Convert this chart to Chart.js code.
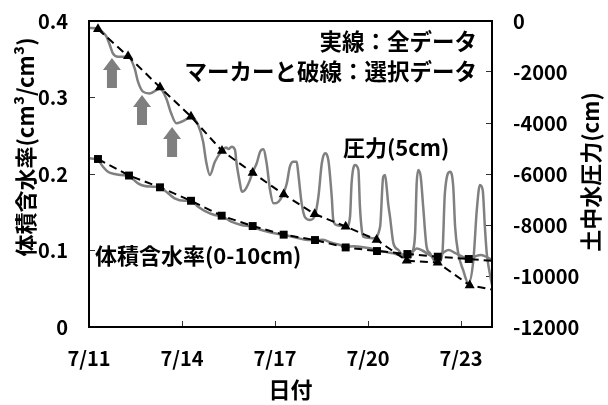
<!DOCTYPE html>
<html><head><meta charset="utf-8">
<script src="https://cdn.jsdelivr.net/npm/chart.js@4.4.1/dist/chart.umd.min.js"></script>
<style>html,body{margin:0;padding:0;background:#fff}#wrap{width:608px;height:405px}</style>
</head><body><div id="wrap"><canvas id="c" width="608" height="405"></canvas></div>
<script>
// ---- data (x = days since 7/11 00:00) ----
const xTickDays = [0, 3, 6, 9, 12];
const xTickLabels = ['7/11', '7/14', '7/17', '7/20', '7/23'];

// volumetric water content (0-10cm), all data
const wcAllDays = [0, 0.29, 0.45, 0.61, 0.83, 1.04, 1.28, 1.58, 1.80, 2.06, 2.28, 2.55, 2.76, 3.09, 3.28, 3.52, 3.78, 4.05, 4.27, 4.59, 4.91, 5.27, 5.56, 5.99, 6.29, 6.64, 7.06, 7.33, 7.55, 7.8, 8.1, 8.28, 8.55, 8.74, 9.06, 9.28, 9.5, 9.82, 9.98, 10.25, 10.45, 10.57, 10.75, 10.95, 11.1, 11.25, 11.45, 11.6, 11.8, 12.0, 12.2, 12.3, 12.5, 12.65, 12.85, 13.0];
const wcAllValues = [0.2205, 0.2183, 0.2095, 0.203, 0.200, 0.1987, 0.1974, 0.1878, 0.1843, 0.1834, 0.1826, 0.1748, 0.1682, 0.1651, 0.1651, 0.1573, 0.1507, 0.1464, 0.1451, 0.1376, 0.1333, 0.1311, 0.1268, 0.1225, 0.1203, 0.1173, 0.1137, 0.1137, 0.1140, 0.1105, 0.1072, 0.1050, 0.1055, 0.1050, 0.1029, 0.1007, 0.0985, 0.0963, 0.0945, 0.0950, 0.0990, 0.1025, 0.1000, 0.0950, 0.0920, 0.0925, 0.0980, 0.1005, 0.0970, 0.0930, 0.0895, 0.0895, 0.0930, 0.0940, 0.0910, 0.0875];

// volumetric water content, selected data (markers)
const wcSelDays = [0.29, 1.29, 2.29, 3.29, 4.28, 5.28, 6.28, 7.29, 8.28, 9.29, 10.27, 11.25, 12.25, 13.3];
const wcSelValues = [0.2196, 0.198, 0.1826, 0.165, 0.1455, 0.132, 0.1207, 0.1137, 0.104, 0.0993, 0.0954, 0.0919, 0.0889, 0.0855];

// soil water pressure (5cm), all data
const psiAllDays = [0, 0.07, 0.29, 0.45, 0.56, 0.67, 0.77, 0.94, 1.20, 1.26, 1.47, 1.58, 1.74, 1.96, 2.23, 2.28, 2.49, 2.65, 2.82, 2.98, 3.19, 3.30, 3.52, 3.68, 3.78, 3.90, 4.06, 4.29, 4.42, 4.50, 4.60, 4.71, 4.76, 4.87, 4.93, 5.03, 5.19, 5.27, 5.41, 5.52, 5.62, 5.73, 5.84, 5.95, 6.11, 6.25, 6.38, 6.48, 6.59, 6.70, 6.75, 6.86, 6.97, 7.13, 7.29, 7.40, 7.51, 7.61, 7.72, 7.83, 7.88, 7.99, 8.20, 8.30, 8.42, 8.47, 8.58, 8.69, 8.74, 8.80, 8.85, 9.00, 9.17, 9.39, 9.49, 9.55, 9.60, 9.65, 9.71, 9.82, 9.98, 10.14, 10.25, 10.45, 10.52, 10.57, 10.62, 10.70, 10.78, 10.89, 11.00, 11.16, 11.25, 11.40, 11.48, 11.65, 11.75, 11.81, 11.91, 12.07, 12.24, 12.40, 12.51, 12.61, 12.70, 12.77, 12.83, 12.91, 13.0];
const psiAllValues = [-270, -270, -310, -450, -600, -940, -1270, -1400, -1400, -1370, -1850, -2380, -2770, -2840, -2670, -2650, -3030, -3620, -4010, -3950, -3820, -3760, -4080, -4730, -5520, -6040, -5520, -5090, -4960, -5020, -4930, -5060, -5580, -6370, -6700, -6630, -6240, -5950, -5580, -5130, -5030, -5580, -6630, -7150, -7090, -6820, -6370, -5710, -5520, -5520, -5970, -7150, -7700, -7800, -7610, -6890, -5580, -5190, -5450, -6890, -7800, -8000, -8040, -8090, -7680, -6370, -5650, -5840, -7280, -8200, -8460, -8500, -8520, -8070, -6110, -6040, -6500, -7150, -7680, -8720, -8980, -9250, -9350, -9000, -8320, -6370, -5840, -6100, -7280, -8850, -9110, -9440, -9490, -9100, -6750, -5910, -6500, -8070, -9100, -9770, -10290, -9370, -7410, -6430, -6630, -8070, -9100, -9770, -10350];

// soil water pressure, selected data (markers)
const psiSelDays = [0.29, 1.26, 2.29, 3.29, 4.29, 5.28, 6.28, 7.28, 8.28, 9.28, 10.25, 11.25, 12.28, 13.3];
const psiSelValues = [-320, -1380, -2600, -3750, -5090, -5950, -6800, -7570, -8060, -8580, -9400, -9475, -10365, -10600];

// annotation anchors (data coordinates)
const arrowDays = [0.74, 1.71, 2.68];
const arrowTopPsi = [-1450, -2900, -4160];
const arrowBottomPsi = [-2630, -4080, -5330];

const pts = (xs, ys) => xs.map((d, i) => ({x: d, y: ys[i]}));

const CJK = '"Noto Sans CJK JP", sans-serif';
const GRAY = '#808080';

const annot = {
  id: 'annot',
  afterDraw(chart) {
    const {ctx, chartArea: a, scales: {x, y, y2}} = chart;
    ctx.save();
    // frame
    ctx.strokeStyle = '#000';
    ctx.lineWidth = 2;
    ctx.strokeRect(a.left, a.top, a.right - a.left, a.bottom - a.top);
    // arrows
    ctx.fillStyle = '#7f7f7f';
    arrowDays.forEach((d, i) => {
      const cx = x.getPixelForValue(d);
      const t = y2.getPixelForValue(arrowTopPsi[i]);
      const b = y2.getPixelForValue(arrowBottomPsi[i]);
      const hw = 9, sw = 5, hh = 12;
      ctx.beginPath();
      ctx.moveTo(cx, t);
      ctx.lineTo(cx + hw, t + hh);
      ctx.lineTo(cx + sw, t + hh);
      ctx.lineTo(cx + sw, b);
      ctx.lineTo(cx - sw, b);
      ctx.lineTo(cx - sw, t + hh);
      ctx.lineTo(cx - hw, t + hh);
      ctx.closePath();
      ctx.fill();
    });
    // texts
    ctx.fillStyle = '#000';
    ctx.textBaseline = 'middle';
    ctx.font = 'bold 22.5px ' + CJK;
    ctx.textAlign = 'right';
    ctx.fillText('実線：全データ', x.getPixelForValue(12.52), y2.getPixelForValue(-784));
    ctx.fillText('マーカーと破線：選択データ', x.getPixelForValue(12.52), y2.getPixelForValue(-1961));
    ctx.textAlign = 'left';
    ctx.font = 'bold 22px ' + CJK;
    ctx.fillText('圧力(5cm)', x.getPixelForValue(8.19), y2.getPixelForValue(-4981));
    ctx.fillText('体積含水率(0-10cm)', x.getPixelForValue(0.19), y.getPixelForValue(0.0928));
    // y axis titles
    ctx.textAlign = 'center';
    ctx.font = 'bold 22px ' + CJK;
    ctx.save();
    ctx.translate(y.left + 26, a.top + 126);
    ctx.rotate(-Math.PI / 2);
    ctx.fillText('体積含水率(cm³/cm³)', 0, 0);
    ctx.restore();
    ctx.save();
    ctx.translate(y2.right - 17, (a.top + a.bottom) / 2 - 2);
    ctx.rotate(-Math.PI / 2);
    ctx.fillText('土中水圧力(cm)', 0, 0);
    ctx.restore();
    ctx.restore();
  }
};

const tickFont = {family: CJK, size: 20, weight: 'bold'};
const gridOpts = {drawOnChartArea: false, tickLength: -6, color: '#333', lineWidth: 1};
const vFit = w => s => { s.width = w; s.paddingTop = 0; s.paddingBottom = 0; };

new Chart(document.getElementById('c'), {
  type: 'line',
  data: {
    datasets: [
      {data: pts(wcSelDays, wcSelValues), yAxisID: 'y', borderColor: '#000', borderWidth: 2, borderDash: [8, 5],
       pointStyle: 'rect', pointRadius: 5.6, pointBackgroundColor: '#000', pointBorderColor: '#000', pointBorderWidth: 0, order: 0},
      {data: pts(psiSelDays, psiSelValues), yAxisID: 'y2', borderColor: '#000', borderWidth: 2, borderDash: [8, 5],
       pointStyle: 'triangle', pointRadius: 5.8, pointBackgroundColor: '#000', pointBorderColor: '#000', pointBorderWidth: 0, order: 0},
      {data: pts(wcAllDays, wcAllValues), yAxisID: 'y', borderColor: GRAY, borderWidth: 2.5, pointRadius: 0,
       cubicInterpolationMode: 'monotone', order: 2},
      {data: pts(psiAllDays, psiAllValues), yAxisID: 'y2', borderColor: GRAY, borderWidth: 2.5, pointRadius: 0,
       cubicInterpolationMode: 'monotone', order: 2}
    ]
  },
  options: {
    responsive: false,
    animation: false,
    devicePixelRatio: 1,
    layout: {padding: {top: 21, left: 0, right: 0, bottom: 0}},
    plugins: {legend: {display: false}, tooltip: {enabled: false}},
    scales: {
      x: {
        type: 'linear', position: 'bottom', min: 0, max: 13,
        afterBuildTicks: s => { s.ticks = xTickDays.map(v => ({value: v})); },
        afterFit: s => { s.height = 78; s.paddingLeft = 0; s.paddingRight = 0; },
        ticks: {autoSkip: false, maxRotation: 0, font: tickFont, color: '#000', padding: 25,
                callback: v => xTickLabels[xTickDays.indexOf(v)]},
        grid: gridOpts,
        border: {display: false},
        title: {display: true, text: '日付', font: {family: CJK, size: 22, weight: 'bold'}, color: '#000', padding: {top: 0, bottom: 2}}
      },
      y: {
        position: 'left', min: 0, max: 0.4,
        afterFit: vFit(89),
        ticks: {stepSize: 0.1, font: tickFont, color: '#000', padding: 27,
                callback: v => v === 0 ? '0' : v.toFixed(1)},
        grid: gridOpts,
        border: {display: false}
      },
      y2: {
        position: 'right', min: -12000, max: 0,
        afterFit: vFit(116),
        ticks: {stepSize: 2000, font: tickFont, color: '#000', padding: 27,
                callback: v => String(v)},
        grid: gridOpts,
        border: {display: false}
      }
    }
  },
  plugins: [annot]
});
</script>
</body></html>
